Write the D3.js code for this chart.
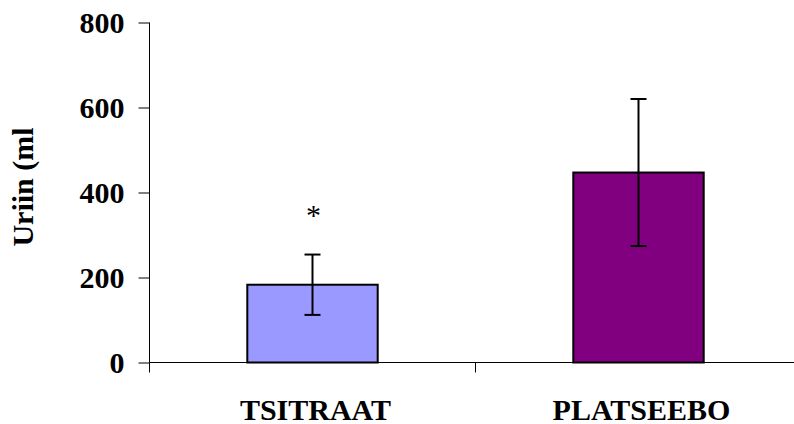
<!DOCTYPE html>
<html>
<head>
<meta charset="utf-8">
<script src="https://cdn.jsdelivr.net/npm/d3@7/dist/d3.min.js"></script>
<style>
  html, body { margin: 0; padding: 0; background: #ffffff; }
  svg { display: block; }
  text { font-family: "Liberation Serif", "Times New Roman", serif; font-weight: bold; fill: #000; }
</style>
</head>
<body>
<svg id="chart" width="794" height="424"></svg>
<script>
// Urine volume by treatment group (mean ± error)
const categories = ["TSITRAAT", "PLATSEEBO"];
const values = [183, 447];
const errors = [71, 173];
const colors = ["#9999FF", "#800080"];
const marks = ["*", ""];
const yTicks = [0, 200, 400, 600, 800];
const yLabel = "Uriin (ml";

const svg = d3.select("#chart");
const plotLeft = 149.5, plotRight = 801.5, plotTop = 22.5, plotBottom = 362.5;

const x = d3.scaleBand()
  .domain(categories)
  .range([plotLeft, plotRight])
  .paddingInner(0.6)
  .paddingOuter(0.3);

const y = d3.scaleLinear().domain([0, 800]).range([plotBottom, plotTop]);

// bars
svg.append("g").selectAll("rect")
  .data(categories)
  .join("rect")
  .attr("x", d => x(d))
  .attr("y", (d, i) => y(values[i]))
  .attr("width", x.bandwidth())
  .attr("height", (d, i) => y(0) - y(values[i]))
  .attr("fill", (d, i) => colors[i])
  .attr("stroke", "#000")
  .attr("stroke-width", 2);

// error bars
const eb = svg.append("g").attr("stroke", "#000").attr("stroke-width", 2);
categories.forEach((c, i) => {
  const cx = x(c) + x.bandwidth() / 2;
  const hi = y(values[i] + errors[i]), lo = y(values[i] - errors[i]);
  eb.append("line").attr("x1", cx).attr("x2", cx).attr("y1", hi).attr("y2", lo);
  eb.append("line").attr("x1", cx - 8).attr("x2", cx + 8).attr("y1", hi).attr("y2", hi);
  eb.append("line").attr("x1", cx - 8).attr("x2", cx + 8).attr("y1", lo).attr("y2", lo);
  if (marks[i]) {
    svg.append("text")
      .attr("x", cx + 1)
      .attr("y", hi - 30)
      .attr("text-anchor", "middle")
      .style("font-weight", "normal")
      .style("font-size", "30px")
      .text(marks[i]);
  }
});

// y axis
const yAxis = d3.axisLeft(y).tickValues(yTicks).tickSize(11).tickPadding(14);
const gy = svg.append("g").attr("transform", `translate(${plotLeft},0)`).call(yAxis);
gy.select(".domain").attr("stroke", "#000").attr("d", `M0,${plotTop}V${plotBottom}`);
gy.selectAll(".tick line").attr("stroke", "#000");
gy.selectAll(".tick text")
  .attr("font-family", null).attr("font-size", null)
  .style("font-size", "30px")
  .attr("dy", "0.34em");

// x axis with tick marks at category boundaries
const step = x.step();
const boundaries = d3.range(categories.length + 1).map(i => x(categories[0]) - x.paddingOuter() * step + i * step);
const gx = svg.append("g");
gx.append("line")
  .attr("x1", plotLeft).attr("x2", plotRight)
  .attr("y1", plotBottom).attr("y2", plotBottom)
  .attr("stroke", "#000").attr("stroke-width", 1);
gx.selectAll("line.tk")
  .data(boundaries)
  .join("line")
  .attr("class", "tk")
  .attr("x1", d => d).attr("x2", d => d)
  .attr("y1", plotBottom).attr("y2", plotBottom + 10)
  .attr("stroke", "#000");
gx.selectAll("text")
  .data(categories)
  .join("text")
  .attr("x", d => x(d) + x.bandwidth() / 2 + 3)
  .attr("y", 420)
  .attr("text-anchor", "middle")
  .style("font-size", "30px")
  .text(d => d);

// y axis title
svg.append("text")
  .attr("transform", "translate(33,187) rotate(-90)")
  .attr("text-anchor", "middle")
  .style("font-size", "30px")
  .text(yLabel);
</script>
</body>
</html>
